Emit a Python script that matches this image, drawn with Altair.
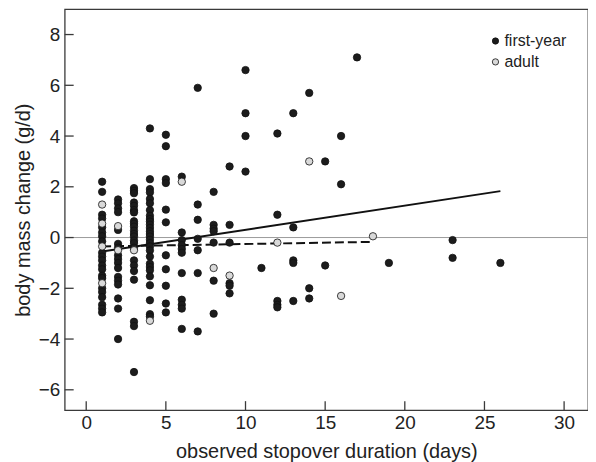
import altair as alt
import pandas as pd

# first-year birds: observed stopover duration (days) and body mass change (g/d)
fy_days = [
    1, 1, 1, 1, 1, 1, 1, 1, 1, 1, 1, 1, 1, 1, 1, 1, 1, 1, 1, 1, 1,
    2, 2, 2, 2, 2, 2, 2, 2, 2, 2, 2, 2, 2, 2, 2, 2, 2,
    3, 3, 3, 3, 3, 3, 3, 3, 3, 3, 3, 3, 3, 3, 3, 3, 3, 3, 3, 3, 3, 3, 3,
    4, 4, 4, 4, 4, 4, 4, 4, 4, 4, 4, 4, 4, 4, 4, 4, 4, 4, 4, 4, 4, 4, 4, 4, 4, 4, 4, 4,
    5, 5, 5, 5, 5, 5, 5, 5, 5, 5, 5,
    6, 6, 6, 6, 6, 6, 6, 6, 6, 6, 6,
    7, 7, 7, 7, 7, 7, 7,
    8, 8, 8, 8, 8, 8, 8,
    9, 9, 9, 9, 9, 9,
    10, 10, 10, 10,
    11,
    12, 12, 12, 12, 12,
    13, 13, 13, 13, 13,
    14, 14, 14,
    15, 15,
    16, 16,
    17,
    19,
    23, 23,
    26,
]
fy_change = [
    2.2, 1.8, 0.9, 0.75, 0.4, 0.2, 0.05, -0.15, -0.6, -0.75, -0.9, -1.1, -1.25, -1.5, -1.6, -2.0, -2.15, -2.35, -2.65, -2.8, -2.95,
    1.5, 1.35, 1.15, 1.0, 0.3, -0.25, -0.4, -0.7, -0.85, -1.0, -1.2, -1.55, -1.7, -1.85, -2.4, -2.8, -4.0,
    1.95, 1.84, 1.75, 1.38, 1.25, 1.08, 0.99, 0.64, 0.54, 0.43, 0.27, 0.14, 0.04, -0.12, -0.22, -0.4, -0.9, -1.1, -1.32, -1.66, -3.32, -3.49, -5.3,
    4.3, 2.3, 1.91, 1.78, 1.52, 1.35, 1.08, 0.86, 0.73, 0.63, 0.51, 0.38, 0.25, 0.14, 0.04, -0.09, -0.22, -0.35, -0.51, -0.75, -1.03, -1.16, -1.29, -1.53, -1.88, -2.47, -3.02, -3.12,
    4.05, 3.6, 2.3, 2.15, 1.1, 0.6, -0.7, -1.25, -1.9, -2.6, -2.95,
    2.4, 0.2, -0.1, -0.3, -0.45, -0.6, -1.4, -2.45, -2.65, -2.8, -3.6,
    5.9, 1.3, 0.7, -0.05, -0.5, -1.4, -3.7,
    1.8, 0.5, 0.35, 0.25, -0.2, -1.7, -3.0,
    2.8, 0.5, -0.2, -1.8, -1.9, -2.2,
    6.6, 4.9, 4.0, 2.6,
    -1.2,
    4.1, 0.9, -2.5, -2.65, -2.75,
    4.9, 0.4, -0.9, -1.0, -2.5,
    5.7, -2.0, -2.4,
    3.0, -1.1,
    4.0, 2.1,
    7.1,
    -1.0,
    -0.1, -0.8,
    -1.0,
]
assert len(fy_days) == len(fy_change)

# adult birds
ad_days = [1, 1, 1, 1, 2, 2, 3, 4, 6, 8, 9, 12, 14, 16, 18]
ad_change = [1.3, 0.55, -0.35, -1.8, 0.45, -0.5, -0.5, -3.28, 2.2, -1.2, -1.5, -0.2, 3.0, -2.3, 0.05]

# fitted regression lines (end points)
fit_fy_days = [1, 26]
fit_fy_change = [-0.55, 1.83]
fit_ad_days = [1, 18]
fit_ad_change = [-0.35, -0.17]

x_ticks = [0, 5, 10, 15, 20, 25, 30]
y_ticks = [-6, -4, -2, 0, 2, 4, 6, 8]
groups = ["first-year", "adult"]

W, H = 526, 403
FONT = "Liberation Sans"
TXT = "#222222"
FRAME = "#3a3a3a"

xs = alt.Scale(domain=[-1.35, 31.5], nice=False, zero=False)
ys = alt.Scale(domain=[-6.8, 9.0], nice=False, zero=False)

xa = alt.Axis(values=x_ticks, title="observed stopover duration (days)", domain=False, ticks=False,
              grid=False, labelFontSize=19, labelFont=FONT, labelColor=TXT, labelPadding=4,
              titleFontSize=20, titleFont=FONT, titleFontWeight="normal", titleColor=TXT, titlePadding=9)
ya = alt.Axis(values=y_ticks, title="body mass change (g/d)", domain=False, ticks=False,
              grid=False, labelFontSize=19, labelFont=FONT, labelColor=TXT, labelPadding=5,
              titleFontSize=20, titleFont=FONT, titleFontWeight="normal", titleColor=TXT, titlePadding=5)

pts = pd.DataFrame({
    "days": fy_days + ad_days,
    "change": fy_change + ad_change,
    "age": [groups[0]] * len(fy_days) + [groups[1]] * len(ad_days),
})
fit_fy = pd.DataFrame({"days": fit_fy_days, "change": fit_fy_change})
fit_ad = pd.DataFrame({"days": fit_ad_days, "change": fit_ad_change})
zero = pd.DataFrame({"change": [0]})
xt = pd.DataFrame({"days": x_ticks})
yt = pd.DataFrame({"change": y_ticks})

zero_rule = alt.Chart(zero).mark_rule(color="#9a9a9a", strokeWidth=1).encode(
    y=alt.Y("change:Q", scale=ys, axis=ya))

xtick_rules = alt.Chart(xt).mark_rule(color=FRAME, strokeWidth=1.3).encode(
    x=alt.X("days:Q", scale=xs, axis=xa), y=alt.value(H), y2=alt.value(H - 9))
ytick_rules = alt.Chart(yt).mark_rule(color=FRAME, strokeWidth=1.3).encode(
    y=alt.Y("change:Q", scale=ys, axis=ya), x=alt.value(0), x2=alt.value(9))

line_fy = alt.Chart(fit_fy).mark_line(color="#111111", strokeWidth=2).encode(
    x=alt.X("days:Q", scale=xs, axis=xa), y=alt.Y("change:Q", scale=ys, axis=ya))
line_ad = alt.Chart(fit_ad).mark_line(color="#111111", strokeWidth=2, strokeDash=[9, 4]).encode(
    x=alt.X("days:Q", scale=xs, axis=xa), y=alt.Y("change:Q", scale=ys, axis=ya))

points = alt.Chart(pts).mark_point(filled=True, size=55, stroke="#111111", strokeWidth=0.8, opacity=1).encode(
    x=alt.X("days:Q", scale=xs, axis=xa),
    y=alt.Y("change:Q", scale=ys, axis=ya),
    fill=alt.Fill("age:N", scale=alt.Scale(domain=groups, range=["#1c1c1c", "#d9d9d9"]),
                  legend=alt.Legend(title=None, orient="none", legendX=425, legendY=24,
                                    labelFontSize=16, labelFont=FONT, labelColor=TXT,
                                    symbolSize=40, symbolStrokeColor="#111111", symbolStrokeWidth=0.8,
                                    symbolType="circle", rowPadding=5, labelOffset=1, padding=0)),
    order=alt.Order("age:N", sort="descending"),
)

chart = alt.layer(zero_rule, line_fy, line_ad, points, xtick_rules, ytick_rules).properties(
    width=W, height=H,
    background="white",
    autosize=alt.AutoSizeParams(type="none"),
    padding={"left": 57, "top": 0, "right": 0, "bottom": 52},
).configure_view(stroke=FRAME, strokeWidth=1.3)

chart.save("out.html", embed_options={"renderer": "svg", "actions": False})
